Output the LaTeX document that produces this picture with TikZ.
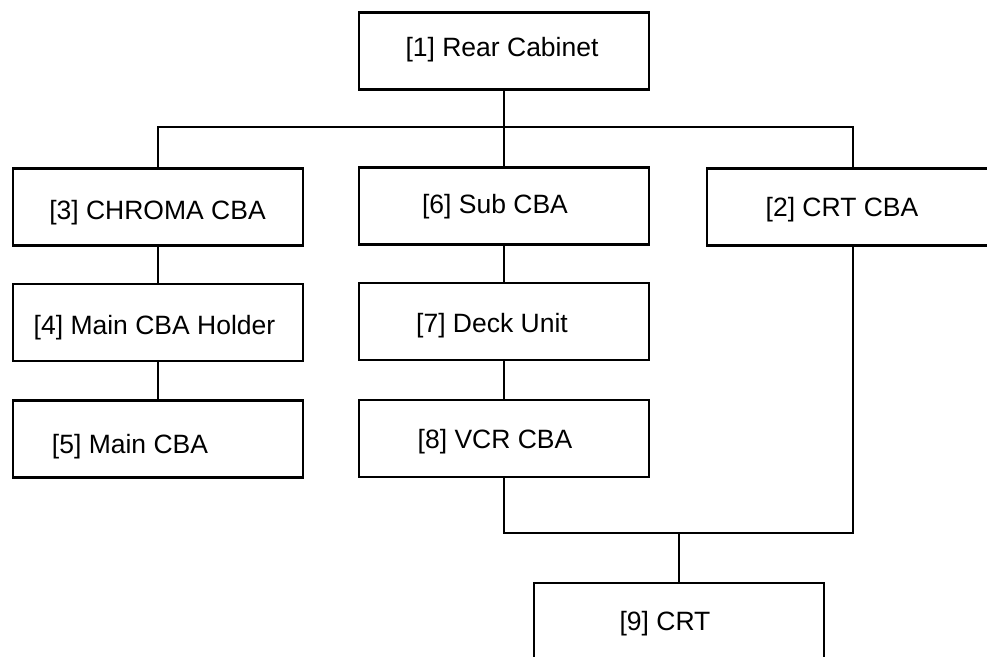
\documentclass[tikz,border=0pt]{standalone}
\usepackage{fontspec}
\setmainfont{Liberation Sans}
\begin{document}
\begin{tikzpicture}[x=1pt,y=1pt,
  part/.style={draw, line width=2.6pt, minimum width=290pt, minimum height=77pt, inner sep=0pt},
  lbl/.style={anchor=base, inner sep=0pt, font=\fontsize{26.5}{30}\selectfont},
  wire/.style={line width=1.2pt}]
  \useasboundingbox (0,0) rectangle (987,-656);
  \clip (0,0) rectangle (987,-656);

  % boxes
  \node[part] (n1) at (504,-51)    {};
  \node[part] (n3) at (158,-207)   {};
  \node[part] (n6) at (504,-206)   {};
  \node[part, minimum width=292pt] (n2) at (853,-207) {};
  \node[part] (n4) at (158,-322.5) {};
  \node[part] (n7) at (504,-321.5) {};
  \node[part] (n5) at (158,-439)   {};
  \node[part] (n8) at (504,-438.5) {};
  \node[part] (n9) at (679,-621.5) {};

  % labels
  \node[lbl] (t1) at (502,-56)   {[1] Rear Cabinet};
  \node[lbl] (t3) at (157.5,-219) {[3] CHROMA CBA};
  \node[lbl] (t6) at (495,-213)  {[6] Sub CBA};
  \node[lbl] (t2) at (842,-216)  {[2] CRT CBA};
  \node[lbl] (t4) at (154.5,-334) {[4] Main CBA Holder};
  \node[lbl] (t7) at (492,-332)  {[7] Deck Unit};
  \node[lbl] (t5) at (130,-453)  {[5] Main CBA};
  \node[lbl] (t8) at (495,-448)  {[8] VCR CBA};
  \node[lbl] (t9) at (665,-630)  {[9] CRT};

  % connectors
  \coordinate (bus) at (504,-127);
  \coordinate (bus2) at (679,-533);
  \draw[wire] (n1.south) -- (n6.north);
  \draw[wire] (n3.north) |- (bus) -| (n2.north);
  \draw[wire] (n3.south) -- (n4.north);
  \draw[wire] (n4.south) -- (n5.north);
  \draw[wire] (n6.south) -- (n7.north);
  \draw[wire] (n7.south) -- (n8.north);
  \draw[wire] (n8.south) |- (bus2) -| (n2.south);
  \draw[wire] (bus2) -- (n9.north);
\end{tikzpicture}
\end{document}
